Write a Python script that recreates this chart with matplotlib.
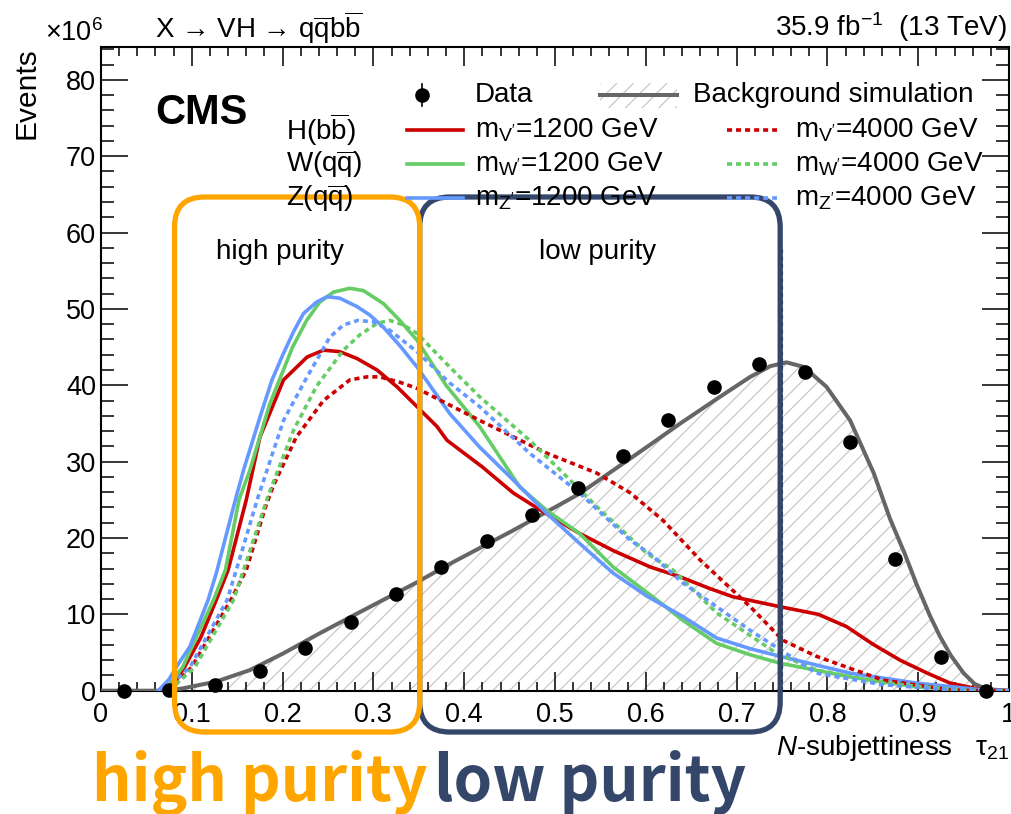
import numpy as np
import matplotlib
matplotlib.use("Agg")
import matplotlib.pyplot as plt
from matplotlib.patches import FancyBboxPatch, Rectangle

plt.rcParams["font.family"] = ["Liberation Sans", "DejaVu Sans"]
plt.rcParams["mathtext.fontset"] = "custom"
plt.rcParams["mathtext.rm"] = "Liberation Sans"
plt.rcParams["mathtext.it"] = "Liberation Sans:italic"
plt.rcParams["mathtext.bf"] = "Liberation Sans:bold"
plt.rcParams["hatch.linewidth"] = 0.9

# ---- data (y in units of 10^6 events) ----
DATA_X = [0.025, 0.075, 0.125, 0.175, 0.225, 0.275, 0.325, 0.375, 0.425, 0.475,
          0.525, 0.575, 0.625, 0.675, 0.725, 0.775, 0.825, 0.875, 0.925, 0.975]
DATA_Y = [0.0, 0.1, 0.8, 2.6, 5.6, 9.0, 12.6, 16.2, 19.6, 23.0,
          26.6, 30.8, 35.4, 39.8, 42.8, 41.7, 32.6, 17.3, 4.4, 0.0]

BKG_X = [0.0, 0.06, 0.075, 0.09, 0.127, 0.164, 0.201, 0.2375, 0.274, 0.311,
         0.348, 0.384, 0.454, 0.527, 0.55, 0.601, 0.638, 0.678, 0.715, 0.737,
         0.755, 0.774, 0.799, 0.825, 0.851, 0.869, 0.885, 0.898, 0.913, 0.924,
         0.936, 0.950, 0.962, 0.975, 1.0]
BKG_Y = [0.0, 0.0, 0.05, 0.3, 1.2, 2.7, 4.9, 7.3, 9.6, 11.9,
         14.2, 16.6, 21.0, 25.8, 27.7, 31.9, 35.0, 38.2, 41.1, 42.5,
         43.0, 42.4, 39.8, 35.4, 28.5, 22.5, 18.0, 14.0, 9.8, 7.1,
         4.6, 2.3, 0.9, 0.2, 0.0]

V1200_X = [0.07, 0.08, 0.092, 0.11, 0.127, 0.140, 0.160, 0.175, 0.201, 0.227,
           0.245, 0.263, 0.282, 0.304, 0.326, 0.348, 0.370, 0.381, 0.42, 0.454,
           0.49, 0.527, 0.565, 0.605, 0.638, 0.67, 0.696, 0.748, 0.79, 0.821,
           0.85, 0.88, 0.91, 0.935, 0.971, 1.0]
V1200_Y = [0.0, 0.8, 3.1, 7.0, 11.9, 15.8, 25.0, 33.2, 40.7, 43.7,
           44.6, 44.4, 43.5, 42.0, 39.8, 37.2, 34.6, 32.8, 29.3, 25.9,
           23.2, 20.6, 18.3, 16.2, 14.9, 13.4, 12.3, 11.0, 10.0, 8.4,
           6.1, 4.0, 2.3, 1.0, 0.1, 0.0]

W1200_X = [0.07, 0.09, 0.124, 0.137, 0.152, 0.164, 0.186, 0.211, 0.2265, 0.241,
           0.256, 0.274, 0.289, 0.311, 0.329, 0.348, 0.38, 0.417, 0.461, 0.491,
           0.527, 0.564, 0.612, 0.641, 0.678, 0.715, 0.748, 0.825, 0.898, 0.97, 1.0]
W1200_Y = [0.0, 3.1, 11.9, 15.8, 25.0, 28.9, 37.6, 45.0, 48.5, 50.9,
           52.2, 52.7, 52.4, 50.7, 48.5, 45.9, 40.0, 34.6, 26.7, 23.6,
           20.6, 16.2, 11.9, 9.2, 6.2, 4.7, 3.6, 1.8, 0.5, 0.0, 0.0]

Z1200_X = [0.063, 0.075, 0.083, 0.098, 0.118, 0.127, 0.148, 0.157, 0.175, 0.188,
           0.201, 0.212, 0.223, 0.2375, 0.249, 0.263, 0.282, 0.296, 0.311, 0.329,
           0.348, 0.384, 0.417, 0.454, 0.491, 0.527, 0.564, 0.601, 0.641, 0.678,
           0.715, 0.748, 0.825, 0.898, 0.971, 1.0]
Z1200_Y = [0.0, 1.5, 3.1, 5.8, 11.9, 15.4, 25.0, 28.9, 35.8, 40.6,
           44.2, 47.0, 49.4, 50.9, 51.6, 51.4, 50.3, 49.2, 47.6, 45.2,
           42.4, 36.3, 31.9, 27.6, 23.2, 19.3, 15.4, 12.4, 9.7, 6.9,
           5.5, 4.5, 2.3, 1.0, 0.1, 0.0]

V4000_X = [0.075, 0.10, 0.143, 0.160, 0.181, 0.190, 0.215, 0.245, 0.274, 0.293,
           0.307, 0.329, 0.348, 0.417, 0.491, 0.546, 0.583, 0.619, 0.660, 0.715,
           0.751, 0.788, 0.861, 0.935, 0.97, 1.0]
V4000_Y = [0.0, 3.1, 11.9, 15.8, 24.0, 26.9, 33.2, 38.0, 40.7, 41.1,
           41.1, 40.4, 39.6, 35.4, 31.1, 28.5, 25.9, 22.3, 17.1, 11.0,
           6.6, 4.5, 1.4, 0.1, 0.0, 0.0]

W4000_X = [0.075, 0.1035, 0.146, 0.157, 0.184, 0.212, 0.237, 0.267, 0.285, 0.304,
           0.318, 0.333, 0.348, 0.384, 0.417, 0.472, 0.509, 0.546, 0.601, 0.63,
           0.678, 0.744, 0.788, 0.861, 0.935, 0.97, 1.0]
W4000_Y = [0.0, 3.1, 11.9, 15.8, 25.5, 34.1, 39.8, 44.6, 46.6, 48.1,
           48.5, 47.9, 46.8, 42.4, 38.5, 32.8, 28.5, 24.1, 18.0, 15.8,
           10.2, 4.9, 2.7, 1.0, 0.2, 0.0, 0.0]

Z4000_X = [0.07, 0.098, 0.139, 0.149, 0.172, 0.201, 0.227, 0.252, 0.267, 0.283,
           0.300, 0.318, 0.348, 0.384, 0.417, 0.472, 0.527, 0.583, 0.605, 0.641,
           0.715, 0.788, 0.86, 0.935, 0.97, 1.0]
Z4000_Y = [0.0, 3.1, 11.9, 15.8, 25.0, 35.4, 41.1, 46.3, 47.9, 48.5,
           48.3, 47.2, 44.4, 40.3, 37.2, 31.1, 25.9, 19.7, 17.9, 14.1,
           7.9, 2.3, 0.8, 0.1, 0.0, 0.0]

CUT_X = 0.75
CUT_TOP = 58.3

XTICKS = [0.0, 0.1, 0.2, 0.3, 0.4, 0.5, 0.6, 0.7, 0.8, 0.9, 1.0]
XTICK_LABELS = ["0", "0.1", "0.2", "0.3", "0.4", "0.5", "0.6", "0.7", "0.8", "0.9", "1"]
YTICKS = [0, 10, 20, 30, 40, 50, 60, 70, 80]

HP_RANGE = (0.081, 0.351)
LP_RANGE = (0.351, 0.748)

RED = "#cc0000"
GREEN = "#66cc66"
BLUE = "#6699ff"
GREY = "#666666"
ORANGE = "#ffa500"
NAVY = "#34476a"
DOT = (1.4, 1.1)

SIGNALS = [
    (V1200_X, V1200_Y, RED, "-", "m$_{\\mathrm{V'}}$=1200 GeV"),
    (W1200_X, W1200_Y, GREEN, "-", "m$_{\\mathrm{W'}}$=1200 GeV"),
    (Z1200_X, Z1200_Y, BLUE, "-", "m$_{\\mathrm{Z'}}$=1200 GeV"),
    (V4000_X, V4000_Y, RED, ":", "m$_{\\mathrm{V'}}$=4000 GeV"),
    (W4000_X, W4000_Y, GREEN, ":", "m$_{\\mathrm{W'}}$=4000 GeV"),
    (Z4000_X, Z4000_Y, BLUE, ":", "m$_{\\mathrm{Z'}}$=4000 GeV"),
]

W, H = 1012, 814
fig = plt.figure(figsize=(W / 100, H / 100), dpi=100)
ax = fig.add_axes([101 / W, 1 - 690.7 / H, 908 / W, (690.7 - 47) / H])

ax.fill_between(BKG_X, BKG_Y, 0, facecolor="none", edgecolor="#c8c8c8",
                hatch="//", linewidth=0, zorder=1)
ax.plot(BKG_X, BKG_Y, color=GREY, lw=2.9, zorder=3, solid_joinstyle="round")
ax.plot([CUT_X, CUT_X], [0, CUT_TOP], color="k", lw=1.5, ls=(0, (2, 1.5)), zorder=2)

for xs, ys, col, ls, _ in SIGNALS:
    line, = ax.plot(xs, ys, color=col, lw=2.6, zorder=4, solid_joinstyle="round")
    if ls == ":":
        line.set_dashes(DOT)

ax.plot(DATA_X, DATA_Y, "o", color="k", ms=9.5, zorder=6, clip_on=False)

ax.set_xlim(0, 1)
ax.set_ylim(0, 84.3)
ax.set_xticks(XTICKS, XTICK_LABELS)
ax.set_yticks(YTICKS)
ax.xaxis.set_minor_locator(plt.MultipleLocator(0.02))
ax.yaxis.set_minor_locator(plt.MultipleLocator(2))
ax.tick_params(which="both", direction="in", top=True, right=True,
               labelsize=19.5, width=1.1)
ax.tick_params(axis="x", which="major", length=13.7, pad=8)
ax.tick_params(axis="x", which="minor", length=6.8)
ax.tick_params(axis="y", which="major", length=19.4, pad=3.5)
ax.tick_params(axis="y", which="minor", length=9.5)
for sp in ax.spines.values():
    sp.set_linewidth(1.5)

# ---- overlay in pixel units for legend, labels and the purity boxes ----
ov = fig.add_axes([0, 0, 1, 1], zorder=10)
ov.set_xlim(0, W)
ov.set_ylim(H, 0)
ov.axis("off")
ov.patch.set_alpha(0)

FS = 20
ov.text(155, 37.5, "X → VH → q$\\overline{\\mathrm{q}}$b$\\overline{\\mathrm{b}}$",
        fontsize=FS, va="baseline")
ov.text(1007, 36, "35.9 fb$^{\\mathrm{-1}}$  (13 TeV)", fontsize=FS, va="baseline", ha="right")
ov.text(45, 41, "×10$^{\\mathrm{6}}$", fontsize=19.5, va="baseline")
ov.text(27, 47, "Events", fontsize=21.5, rotation=90, ha="center", va="top")
ov.text(155, 124, "CMS", fontsize=30, fontweight="bold", va="baseline")
ov.text(953, 755, "$N$-subjettiness", fontsize=FS, va="baseline", ha="right")
ov.text(975, 755, "τ$_{\\mathrm{21}}$", fontsize=FS, va="baseline", ha="left")

# legend
ov.plot([421.7, 421.7], [84, 106], color="k", lw=1.2)
ov.plot([421.7], [95], "o", color="k", ms=9.5)
ov.text(475, 95, "Data", fontsize=FS, va="center")
ov.add_patch(Rectangle((600, 83), 77, 25, facecolor="none", edgecolor="#c8c8c8",
                       hatch="//", linewidth=0))
ov.plot([600, 677], [95, 95], color=GREY, lw=2.9)
ov.text(693, 95, "Background simulation", fontsize=FS, va="center")
for k, (row_label, y) in enumerate(zip(["H(b$\\overline{\\mathrm{b}}$)",
                                        "W(q$\\overline{\\mathrm{q}}$)",
                                        "Z(q$\\overline{\\mathrm{q}}$)"],
                                       [130, 164, 198])):
    ov.text(286, y, row_label, fontsize=FS, va="center")
    _, _, col, _, lab = SIGNALS[k]
    ov.plot([407, 463], [y, y], color=col, lw=2.6)
    ov.text(475, y, lab, fontsize=FS, va="center")
    _, _, col, _, lab = SIGNALS[k + 3]
    l2, = ov.plot([727, 777], [y, y], color=col, lw=2.6)
    l2.set_dashes(DOT)
    ov.text(795, y, lab, fontsize=FS, va="center")


def to_px(xval):
    return 101 + xval * 908


for (x0, x1), col, label, lx in [(LP_RANGE, NAVY, "low purity", 598),
                                 (HP_RANGE, ORANGE, "high purity", 280)]:
    p0, p1 = to_px(x0), to_px(x1)
    ov.add_patch(FancyBboxPatch((p0, 197), p1 - p0, 535,
                                boxstyle="round,pad=0,rounding_size=30",
                                facecolor="none", edgecolor=col, lw=3.8))
    ov.text(lx, 252, label, fontsize=FS, ha="center", va="center")

BIG = dict(fontsize=44.5, fontweight="bold", va="baseline",
           family=["Noto Sans CJK JP", "DejaVu Sans"])
ov.text(92, 801, "high purity", color=ORANGE, **BIG)
ov.text(434, 801, "low purity", color=NAVY, **BIG)

fig.savefig("out.png", dpi=100)
